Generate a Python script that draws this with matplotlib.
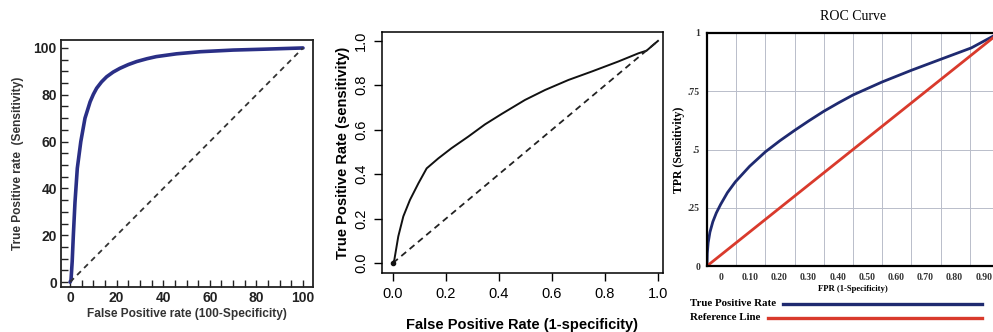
"""
Three ROC curves side by side, as in the scanned reference.
"""
import numpy as np
import matplotlib
matplotlib.use("Agg")
import matplotlib.pyplot as plt
from matplotlib.lines import Line2D
from matplotlib.ticker import MultipleLocator, FixedLocator

# panel 1: percent scale
fpr_a = [0, 0.4, 0.9, 1.4, 2.1, 3.1, 4.6, 6.4, 8.6, 10, 11.4, 13.5, 15.7, 18.5,
         21.4, 25, 28.6, 33, 37, 45.7, 56, 70, 84, 100]
tpr_a = [0, 0.9, 8.7, 20, 34, 48.6, 60, 70, 77, 80.2, 82.8, 85.5, 87.7, 89.7,
         91.3, 92.9, 94.2, 95.4, 96.3, 97.5, 98.4, 99.1, 99.5, 100]

# panel 2: R style plot
fpr_b = [0, 0.005, 0.02, 0.039, 0.064, 0.096, 0.127, 0.171, 0.221, 0.284, 0.347,
         0.41, 0.498, 0.574, 0.662, 0.75, 0.85, 0.926, 0.957, 1.0]
tpr_b = [0, 0.014, 0.12, 0.21, 0.284, 0.359, 0.426, 0.471, 0.517, 0.569, 0.624,
         0.671, 0.734, 0.779, 0.824, 0.862, 0.907, 0.944, 0.956, 1.0]

# panel 3: SPSS style plot
fpr_c = [0, 0.001, 0.004, 0.01, 0.02, 0.032, 0.047, 0.07, 0.097, 0.146, 0.2, 0.25,
         0.30, 0.35, 0.40, 0.45, 0.5, 0.6, 0.70, 0.80, 0.905, 1.0]
tpr_c = [0, 0.055, 0.1, 0.145, 0.19, 0.228, 0.265, 0.315, 0.361, 0.428, 0.49, 0.538,
         0.582, 0.624, 0.664, 0.70, 0.734, 0.79, 0.84, 0.887, 0.936, 1.0]
ref_c = [0, 1]
xlabels_c = ["0", "0.10", "0.20", "0.30", "0.40", "0.50", "0.60", "0.70", "0.80", "0.90"]
ylabels_c = ["0", ".25", ".5", ".75", "1"]

W, H = 993, 332
fig = plt.figure(figsize=(W / 100, H / 100), dpi=100)


def box(l, t, r, b):
    return [l / W, (H - b) / H, (r - l) / W, (b - t) / H]


sans = "Liberation Sans"
serif = "Liberation Serif"

# ---------------- panel 1 ----------------
ax1 = fig.add_axes(box(61, 40, 313, 287))
ax1.plot(fpr_a, tpr_a, color="#2a2f86", lw=2.6, solid_capstyle="round",
         solid_joinstyle="round")
ax1.plot([0, 100], [0, 100], color="#333333", lw=1.3, ls=(0, (3, 2.5)))
ax1.set_xlim(-3.9, 104.3)
ax1.set_ylim(-2.1, 103.4)
ax1.xaxis.set_major_locator(MultipleLocator(20))
ax1.xaxis.set_minor_locator(MultipleLocator(5))
ax1.yaxis.set_major_locator(MultipleLocator(20))
ax1.yaxis.set_minor_locator(MultipleLocator(5))
ax1.tick_params(which="both", direction="in", length=5, width=1, color="#222222")
ax1.tick_params(axis="both", labelsize=10, pad=3)
for lab in ax1.get_xticklabels() + ax1.get_yticklabels():
    lab.set_fontfamily(sans)
    lab.set_fontweight("bold")
    lab.set_color("#222222")
for s in ax1.spines.values():
    s.set_linewidth(1.3)
    s.set_color("#222222")
ax1.set_xlabel("False Positive rate (100-Specificity)", family=sans, weight="bold",
               fontsize=8.6, color="#333333", labelpad=2)
ax1.set_ylabel("True Positive rate  (Sensitivity)", family=sans, weight="bold",
               fontsize=8.6, color="#333333", labelpad=7)

# ---------------- panel 2 ----------------
ax2 = fig.add_axes(box(382, 32, 663, 273))
ax2.plot(fpr_b, tpr_b, color="#111111", lw=1.4, solid_joinstyle="round")
ax2.plot([0, 1], [0, 1], color="#222222", lw=1.3, ls=(0, (3.5, 2.5)))
ax2.plot([0], [0], "o", color="#111111", ms=3)
ax2.set_xlim(-0.0415, 1.019)
ax2.set_ylim(-0.045, 1.04)
ax2.set_xticks(np.arange(0, 1.01, 0.2))
ax2.set_yticks(np.arange(0, 1.01, 0.2))
ax2.xaxis.set_major_formatter(plt.FuncFormatter(lambda v, p: f"{v:.1f}"))
ax2.yaxis.set_major_formatter(plt.FuncFormatter(lambda v, p: f"{v:.1f}"))
ax2.tick_params(direction="out", length=6, width=1, labelsize=10.5, pad=4)
for lab in ax2.get_xticklabels() + ax2.get_yticklabels():
    lab.set_fontfamily(sans)
for lab in ax2.get_yticklabels():
    lab.set_rotation(90)
    lab.set_va("center")
for s in ax2.spines.values():
    s.set_linewidth(1.1)
ax2.set_xlabel("False Positive Rate (1-specificity)", family=sans, weight="bold",
               fontsize=10.5, labelpad=12)
ax2.set_ylabel("True Positive Rate (sensitivity)", family=sans, weight="bold",
               fontsize=10.5, labelpad=3)

# ---------------- panel 3 ----------------
ax3 = fig.add_axes(box(707, 33, 999, 266))
ax3.plot(fpr_c, tpr_c, color="#1f2a70", lw=2.0, solid_joinstyle="round")
ax3.plot(ref_c, ref_c, color="#d93a2c", lw=2.0)
ax3.set_xlim(0, 1.0)
ax3.set_ylim(0, 1.0)
ax3.xaxis.set_minor_locator(FixedLocator(np.arange(1, 10) / 10))
ax3.grid(axis="x", which="minor", color="#b9bdca", lw=0.7)
ax3.grid(axis="y", which="major", color="#b9bdca", lw=0.7)
ax3.set_xticks(np.arange(10) / 10 + 0.048)
ax3.set_xticklabels(xlabels_c)
ax3.set_yticks([0, 0.25, 0.5, 0.75, 1.0])
ax3.set_yticklabels(ylabels_c)
ax3.tick_params(which="both", length=0, labelsize=7, pad=5)
for lab in ax3.get_xticklabels() + ax3.get_yticklabels():
    lab.set_fontfamily(serif)
    lab.set_fontweight("bold")
    lab.set_color("#333333")
for s in ax3.spines.values():
    s.set_linewidth(1.6)
ax3.set_title("ROC Curve", family=serif, fontsize=10, pad=9)
ax3.set_xlabel("FPR (1-Specificity)", family=serif, weight="bold", fontsize=6.2,
               labelpad=2, x=0.5)
ax3.set_ylabel("TPR (Sensitivity)", family=serif, weight="bold", fontsize=8.5,
               labelpad=2)

# legend drawn under the third panel
fig.text(690 / W, 1 - 303 / H, "True Positive Rate", family=serif, weight="bold",
         fontsize=7.8, va="center", ha="left")
fig.text(690 / W, 1 - 317 / H, "Reference Line", family=serif, weight="bold",
         fontsize=7.8, va="center", ha="left")
fig.add_artist(Line2D([783 / W, 982 / W], [1 - 304 / H, 1 - 304 / H],
                      color="#1f2a70", lw=2.4, transform=fig.transFigure))
fig.add_artist(Line2D([768 / W, 982 / W], [1 - 318 / H, 1 - 318 / H],
                      color="#d93a2c", lw=2.4, transform=fig.transFigure))

fig.savefig("out.png", dpi=100)
